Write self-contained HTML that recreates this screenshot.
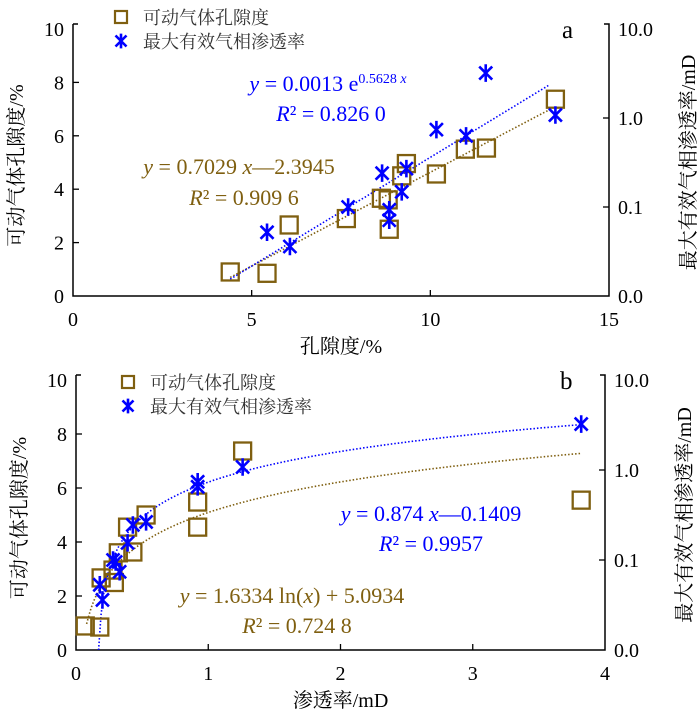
<!DOCTYPE html>
<html><head><meta charset="utf-8"><style>
html,body{margin:0;padding:0;background:#fff;}
svg{display:block;font-family:"Liberation Serif","Noto Serif CJK SC",serif;}
.cj{font-family:"Liberation Serif","Noto Serif CJK SC",serif;}
</style></head><body>
<svg id="svg" width="700" height="720" viewBox="0 0 700 720" xmlns="http://www.w3.org/2000/svg">
<g id="ga"></g>
<g id="gb"></g>
</svg>
<script>
// Panel a data
const aPorosity = [4.4,5.43,6.05,7.65,8.63,8.82,8.85,9.2,9.33,10.17,10.98,11.57,13.5];
const aMobile = [0.9,0.85,2.66,2.9,3.66,3.6,2.5,4.5,4.96,4.57,5.5,5.54,7.37];
const aPermX = [5.43,6.07,7.7,8.65,8.85,8.85,9.2,9.33,10.17,11.0,11.55,13.5];
const aPerm = [0.052,0.036,0.1,0.24,0.093,0.071,0.148,0.27,0.74,0.63,3.2,1.08];
const aXTicks = [0,5,10,15];
// Panel b data
const bPermX = [0.07,0.18,0.19,0.29,0.28,0.32,0.43,0.39,0.53,0.92,0.92,1.26,3.82];
const bMobile = [0.89,0.85,2.67,2.5,2.96,3.6,3.63,4.55,5.0,5.48,4.55,7.37,5.55];
const bStarX = [0.18,0.2,0.28,0.3,0.33,0.39,0.43,0.53,0.92,0.92,1.26,3.82];
const bPerm = [0.053,0.036,0.10,0.095,0.074,0.155,0.245,0.265,0.74,0.65,1.08,3.24];
const bXTicks = [0,1,2,3,4];
const yTicks = [0,2,4,6,8,10];
const rTicks = [0.01,0.1,1,10];
const rLabels = ["0.0","0.1","1.0","10.0"];

const NS="http://www.w3.org/2000/svg";
const BR="#7f5f10", BL="#0000ff";
function mk(p,tag,at,txt){const e=document.createElementNS(NS,tag);for(const k in at)e.setAttribute(k,at[k]);if(txt!==undefined)e.textContent=txt;p.appendChild(e);return e;}

function panel(g,cfg){
  const {L,R,T,B,xmax,xTicks}=cfg;
  const sx=v=>L+(v/xmax)*(R-L);
  const sy=v=>B-(v/10)*(B-T);
  const sr=v=>B-(Math.log10(v)+2)/3*(B-T);
  const ax=mk(g,'path',{d:`M${L} ${T-5}H${L+5}M${L} ${T-5}V${B}H${R}V${T-5}H${R-5}`,fill:'none',stroke:'#000','stroke-width':1.5});
  
  yTicks.forEach(v=>{
    const y=sy(v);
    if(v>0&&v<10){const t=mk(g,'line',{x1:L,x2:L+6,y1:y,y2:y,stroke:'#000','stroke-width':1.3});}
    const l=mk(g,'text',{x:L-9,y:y+7,'text-anchor':'end','font-size':20},String(v));
    
  });
  xTicks.forEach(v=>{
    const x=sx(v);
    if(v>0&&v<xmax){const t=mk(g,'line',{x1:x,x2:x,y1:B,y2:B-6,stroke:'#000','stroke-width':1.3});}
    const l=mk(g,'text',{x:x,y:B+30,'text-anchor':'middle','font-size':20},String(v));
    
  });
  rTicks.forEach((v,i)=>{
    const y=sr(v);
    if(i>0&&i<3){const t=mk(g,'line',{x1:R,x2:R-6,y1:y,y2:y,stroke:'#000','stroke-width':1.3});}
    const l=mk(g,'text',{x:R+9,y:y+7,'font-size':20},rLabels[i]);
    
  });
  const yt=mk(g,'text',{x:0,y:0,'text-anchor':'middle','font-size':20,class:'cj',transform:`translate(${L-50},${(T+B)/2+3}) rotate(-90)`},'可动气体孔隙度/%');
  
  const rt=mk(g,'text',{x:0,y:0,'text-anchor':'middle','font-size':20,class:'cj',transform:`translate(${R+86},${(T+B)/2}) rotate(-90)`},'最大有效气相渗透率/mD');
  
  const xt=mk(g,'text',{x:(L+R)/2,y:B+57,'text-anchor':'middle','font-size':20,class:'cj'},cfg.xtitle);
  
  const lab=mk(g,'text',{x:cfg.labX,y:T+9,'font-size':25},cfg.label);
  
  const lg=mk(g,'g',{});
  const s1=mk(lg,'rect',{x:cfg.legX-6,y:cfg.legY-6,width:12,height:12,fill:'none',stroke:BR,'stroke-width':2.2});
  
  const t1=mk(lg,'text',{x:cfg.legX+22,y:cfg.legY+7,'font-size':18,class:'cj',fill:'#333'},'可动气体孔隙度');
  
  star(lg,cfg.legX,cfg.legY+24,5.5);
  const t2=mk(lg,'text',{x:cfg.legX+22,y:cfg.legY+31,'font-size':18,class:'cj',fill:'#333'},'最大有效气相渗透率');
  
  return {sx,sy,sr};
}
function star(g,x,y,r){
  const p=mk(g,'path',{d:`M${x-r} ${y-r}L${x+r} ${y+r}M${x-r} ${y+r}L${x+r} ${y-r}M${x} ${y-r*1.35}V${y+r*1.35}`,stroke:BL,'stroke-width':2.6,fill:'none'});
  
}
function sq(g,x,y){
  const p=mk(g,'rect',{x:x-8.5,y:y-8.5,width:17,height:17,fill:'none',stroke:BR,'stroke-width':2.3});
  
}
function curve(g,f,x0,x1,sx,syf,col,name){
  let d='';for(let i=0;i<=200;i++){const x=x0+(x1-x0)*i/200;const y=f(x);if(!(y>0)&&syf.log)continue;const py=syf(y);d+=(d?'L':'M')+sx(x).toFixed(1)+' '+py.toFixed(1);}
  const p=mk(g,'path',{d,fill:'none',stroke:col,'stroke-width':1.6,'stroke-dasharray':'1.5 2'});
  
}
function eq(g,x,y,col,html,name){
  const t=mk(g,'text',{x,y,'text-anchor':'middle','font-size':22,fill:col});
  t.innerHTML=html;
}

const ga=document.getElementById('ga');
const A=panel(ga,{L:73,R:609,T:29,B:296,xmax:15,xTicks:aXTicks,xtitle:'孔隙度/%',label:'a',labX:562,legX:121,legY:17});
const srA=v=>A.sr(Math.max(v,1e-6));srA.log=true;
curve(ga,x=>0.7029*x-2.3945,4.4,13.3,A.sx,A.sy,BR,'trendline-porosity-linear');
curve(ga,x=>0.0013*Math.exp(0.5628*x),4.4,13.3,A.sx,srA,BL,'trendline-permeability-exp');
aPorosity.forEach((x,i)=>sq(ga,A.sx(x),A.sy(aMobile[i])));
aPermX.forEach((x,i)=>star(ga,A.sx(x),A.sr(aPerm[i]),6.5));
eq(ga,328,91,BL,'<tspan font-style="italic">y</tspan> = 0.0013 e<tspan dy="-8" font-size="14">0.5628 <tspan font-style="italic">x</tspan></tspan>','equation-a-exp');
eq(ga,331,121,BL,'<tspan font-style="italic">R</tspan>² = 0.826 0','r2-a-exp');
eq(ga,239,174,BR,'<tspan font-style="italic">y</tspan> = 0.7029 <tspan font-style="italic">x</tspan>—2.3945','equation-a-linear');
eq(ga,244,205,BR,'<tspan font-style="italic">R</tspan>² = 0.909 6','r2-a-linear');

const gb=document.getElementById('gb');
const Bp=panel(gb,{L:76,R:605,T:380,B:650,xmax:4,xTicks:bXTicks,xtitle:'渗透率/mD',label:'b',labX:560,legX:128,legY:382});
const srB=v=>Bp.sr(Math.max(v,1e-6));srB.log=true;
curve(gb,x=>1.6334*Math.log(x)+5.0934,0.08,3.82,Bp.sx,Bp.sy,BR,'trendline-porosity-log');
curve(gb,x=>0.874*x-0.1409,0.1708,3.82,Bp.sx,v=>Math.min(650,srB(v)),BL,'trendline-permeability-linear');
bPermX.forEach((x,i)=>sq(gb,Bp.sx(x),Bp.sy(bMobile[i])));
bStarX.forEach((x,i)=>star(gb,Bp.sx(x),Bp.sr(bPerm[i]),6.5));
eq(gb,431,521,BL,'<tspan font-style="italic">y</tspan> = 0.874 <tspan font-style="italic">x</tspan>—0.1409','equation-b-linear');
eq(gb,431,551,BL,'<tspan font-style="italic">R</tspan>² = 0.9957','r2-b-linear');
eq(gb,292,603,BR,'<tspan font-style="italic">y</tspan> = 1.6334 ln(<tspan font-style="italic">x</tspan>) + 5.0934','equation-b-log');
eq(gb,297,633,BR,'<tspan font-style="italic">R</tspan>² = 0.724 8','r2-b-log');
</script>
</body></html>
